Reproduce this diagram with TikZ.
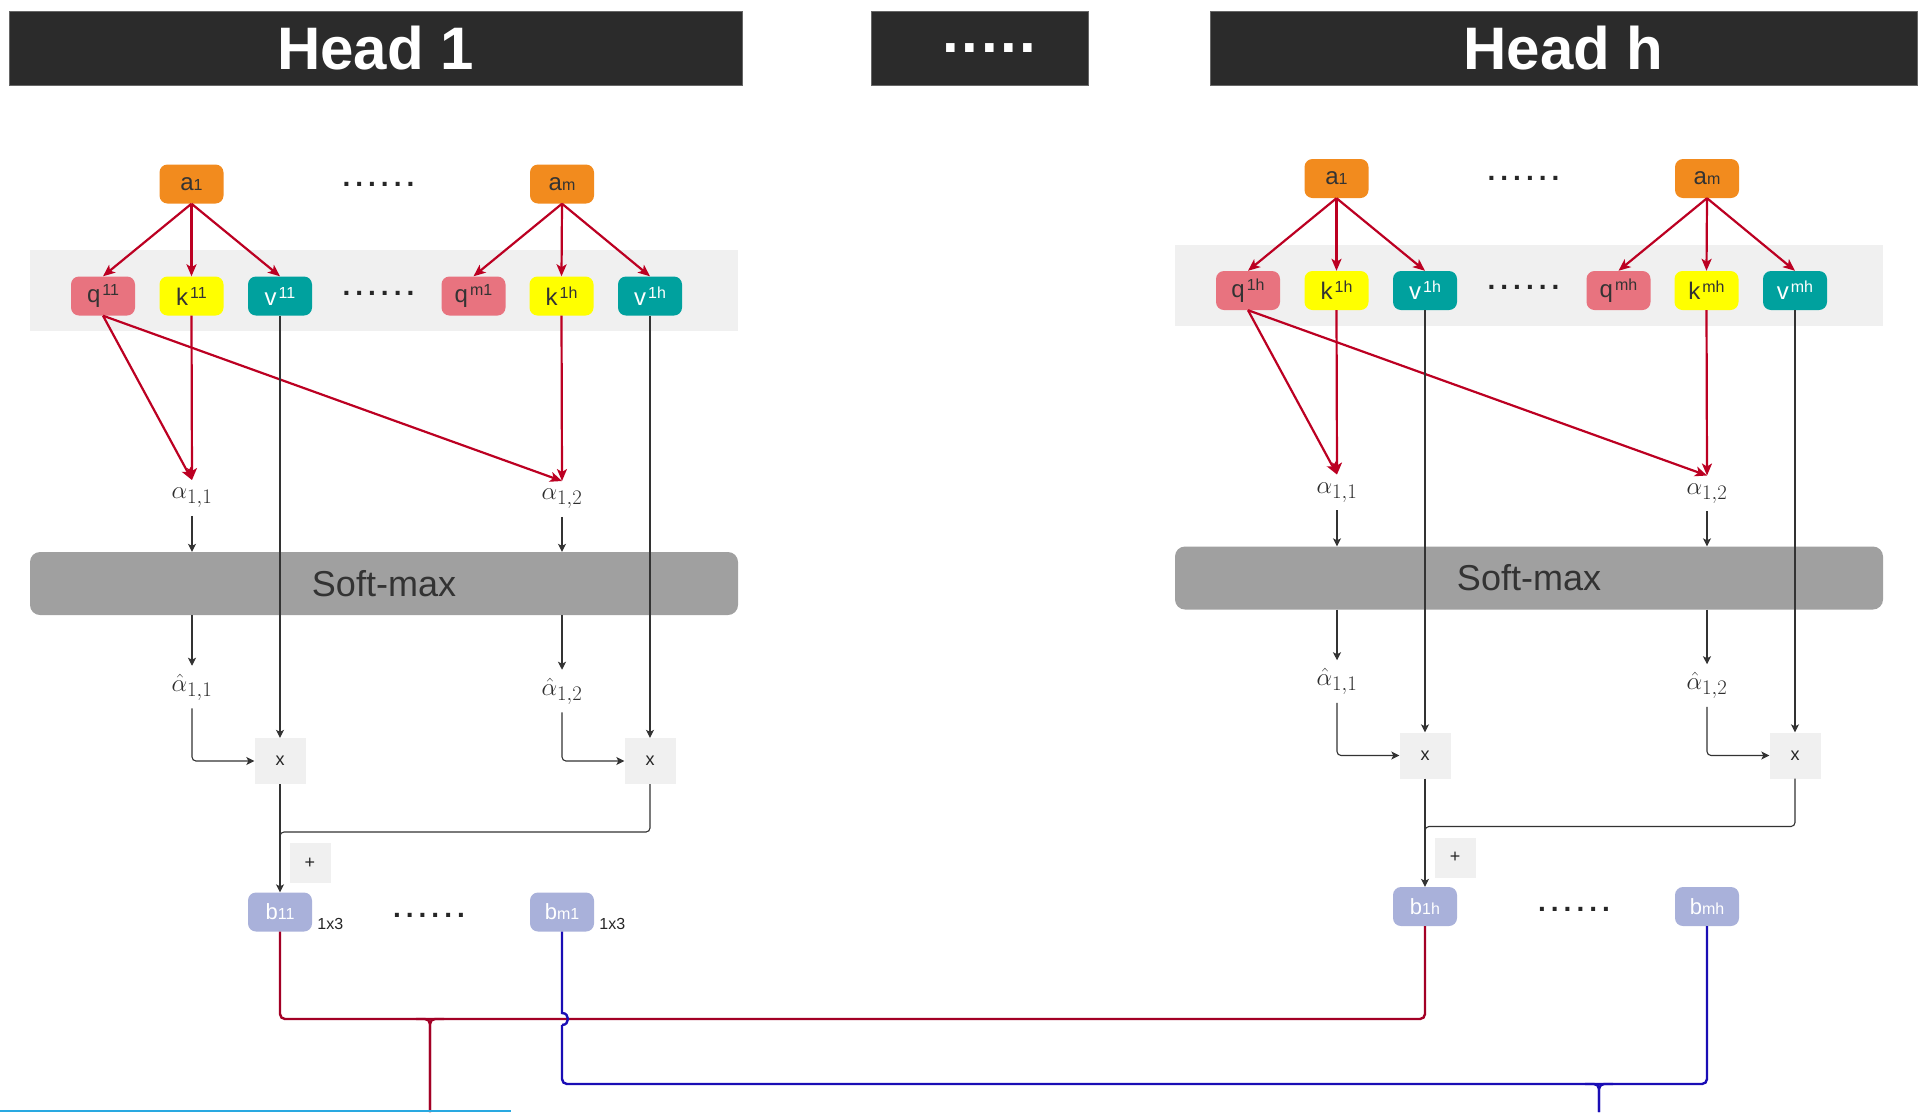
\documentclass[tikz,border=0pt]{standalone}
\usepackage{fontspec}
\setmainfont{Liberation Sans}
\usetikzlibrary{arrows.meta}

\definecolor{barblack}{HTML}{2B2B2B}
\definecolor{aorange}{HTML}{F28B1E}
\definecolor{qpink}{HTML}{E8737F}
\definecolor{kyellow}{HTML}{FFFF00}
\definecolor{vteal}{HTML}{00A19E}
\definecolor{blav}{HTML}{A9B1DA}
\definecolor{bandgrey}{HTML}{F0F0F0}
\definecolor{softgrey}{HTML}{A0A0A0}
\definecolor{inkgrey}{HTML}{333333}
\definecolor{arrowred}{HTML}{BC0022}
\definecolor{busred}{HTML}{A30025}
\definecolor{busblue}{HTML}{1A0DB5}
\definecolor{edgecyan}{HTML}{29A9E1}

\newcommand\lowidx[1]{{\fontsize{16}{16}\selectfont #1}}
\newcommand\upidx[1]{\kern2pt\raisebox{7pt}{\fontsize{16}{16}\selectfont #1}}
\newcommand\sixdots{.\kern5pt.\kern5pt.\kern5pt.\kern5pt.\kern5pt.}
\newcommand\fivedots{.\kern2.5pt.\kern2.5pt.\kern2.5pt.\kern2.5pt.}

\tikzset{
  titlebar/.style={fill=barblack, draw=black!60, minimum height=74pt, inner sep=0pt,
    text=white, font=\bfseries\fontsize{60}{60}\selectfont},
  box/.style={rounded corners=8pt, minimum width=64pt, minimum height=39pt, inner sep=0pt,
    font=\fontsize{24}{24}\selectfont},
  anode/.style={box, fill=aorange, text=inkgrey},
  qnode/.style={box, fill=qpink, text=inkgrey},
  knode/.style={box, fill=kyellow, text=inkgrey},
  vnode/.style={box, fill=vteal, text=white},
  bnode/.style={box, fill=blav, text=white, font=\fontsize{22}{22}\selectfont},
  dotrow/.style={inner sep=0pt, text=black!85, font=\bfseries\fontsize{28}{28}\selectfont},
  weight/.style={text=black!82, inner xsep=0pt, inner ysep=8pt, font=\fontsize{28}{28}\selectfont},
  softbox/.style={fill=softgrey, rounded corners=10pt, minimum width=708pt, minimum height=63pt,
    text=inkgrey, font=\fontsize{36}{36}\selectfont},
  opbox/.style={fill=bandgrey, inner sep=0pt, text=black!85, font=\fontsize{18}{18}\selectfont},
  dimlabel/.style={inner sep=0pt, text=black!85, font=\fontsize{16}{16}\selectfont},
  redarrow/.style={draw=arrowred, line width=2.2pt, -{Stealth[length=12pt,width=10pt,inset=3pt]}},
  thinarrow/.style={draw=inkgrey, line width=1.1pt, -{Stealth[length=8pt,width=8pt,inset=2pt]}},
  thinline/.style={draw=inkgrey, line width=1.1pt},
  redbus/.style={draw=busred, line width=2.4pt},
  bluebus/.style={draw=busblue, line width=2.4pt}
}

\begin{document}
\begin{tikzpicture}[x=1pt,y=-1pt]
\useasboundingbox (0,0) rectangle (1928,1112);

% title bars
\node[titlebar, minimum width=733pt] (title1) at (375.5,48) {Head 1};
\node[titlebar, minimum width=217pt] (titlemid) at (979.5,48) {\hspace*{20pt}\fivedots};
\node[titlebar, minimum width=707pt] (titleh) at (1563.5,48) {Head h};

% one block per head
\foreach \h/\sx/\sy/\qa/\ka/\va/\qb/\kb/\vb/\bA/\bM in
  {1/0/0/11/11/11/m1/1h/1h/11/m1, h/1145/-5.5/1h/1h/1h/mh/mh/mh/1h/mh}
{
\begin{scope}[shift={(\sx,\sy)}]
  \fill[bandgrey] (30,250) rectangle (738,331);

  \node[anode] (a\h-1) at (191.5,184) {a\lowidx{1}};
  \node[dotrow] (dotsa\h) at (378.5,184) {\sixdots};
  \node[anode] (a\h-m) at (562,184) {a\lowidx{m}};

  \node[qnode] (q\h-1) at (103,296) {q\upidx{\qa}};
  \node[knode] (k\h-1) at (191.5,296) {k\upidx{\ka}};
  \node[vnode] (v\h-1) at (280,296) {v\upidx{\va}};
  \node[dotrow] (dotsq\h) at (378.5,293) {\sixdots};
  \node[qnode] (q\h-m) at (473.5,296) {q\upidx{\qb}};
  \node[knode] (k\h-m) at (561.5,296) {k\upidx{\kb}};
  \node[vnode] (v\h-m) at (650,296) {v\upidx{\vb}};

  \node[weight] (w\h-1) at (192,498) {$\alpha_{1,1}$};
  \node[weight] (w\h-2) at (562,499) {$\alpha_{1,2}$};
  \node[softbox] (soft\h) at (384,583.5) {Soft-max};
  \node[weight] (wh\h-1) at (192,687) {$\hat{\alpha}_{1,1}$};
  \node[weight] (wh\h-2) at (562,691) {$\hat{\alpha}_{1,2}$};

  \node[opbox, minimum width=51pt, minimum height=46pt] (mul\h-1) at (280,761) {x};
  \node[opbox, minimum width=51pt, minimum height=46pt] (mul\h-2) at (650,761) {x};
  \node[opbox, minimum width=41pt, minimum height=40pt] (plus\h) at (310,863) {+};
  \coordinate (join\h) at (280,832);

  \node[bnode] (b\h-1) at (280,912) {b\lowidx{\bA}};
  \node[dotrow] (dotsb\h) at (429,915) {\sixdots};
  \node[bnode] (b\h-m) at (562,912) {b\lowidx{\bM}};

  \foreach \t in {q,k,v} {
    \draw[redarrow] (a\h-1.south) -- (\t\h-1.north);
    \draw[redarrow] (a\h-m.south) -- (\t\h-m.north);
  }
  \draw[redarrow] (q\h-1.south) -- (w\h-1.north);
  \draw[redarrow] (k\h-1.south) -- (w\h-1.north);
  \draw[redarrow] (q\h-1.south) -- (w\h-2.north);
  \draw[redarrow] (k\h-m.south) -- (w\h-2.north);

  \draw[thinarrow] (w\h-1.south) -- (w\h-1.south |- soft\h.north);
  \draw[thinarrow] (w\h-2.south) -- (w\h-2.south |- soft\h.north);
  \draw[thinarrow] (wh\h-1.north |- soft\h.south) -- (wh\h-1.north);
  \draw[thinarrow] (wh\h-2.north |- soft\h.south) -- (wh\h-2.north);
  \draw[thinarrow, rounded corners=4pt] (wh\h-1.south) |- (mul\h-1.west);
  \draw[thinarrow, rounded corners=4pt] (wh\h-2.south) |- (mul\h-2.west);
  \draw[thinarrow] (v\h-1.south) -- (mul\h-1.north);
  \draw[thinarrow] (v\h-m.south) -- (mul\h-2.north);
  \draw[thinarrow] (mul\h-1.south) -- (b\h-1.north);
  \draw[thinline, rounded corners=4pt] (mul\h-2.south) |- (join\h) -- ++(0,10);
\end{scope}
}

\node[dimlabel, anchor=base west] (dim1) at ([xshift=5pt,yshift=2.5pt]b1-1.south east) {1x3};
\node[dimlabel, anchor=base west] (dim2) at ([xshift=5pt,yshift=2.5pt]b1-m.south east) {1x3};

% joining the heads
\coordinate (redrail) at (0,1019);
\coordinate (redfork) at (430,1019);
\coordinate (redout) at (430,1112);
\coordinate (bluerail) at (0,1084);
\coordinate (bluefork) at (1599,1084);
\coordinate (blueout) at (1599,1112);
\coordinate (hopin) at (562,1013);
\coordinate (hopout) at (562,1025);

\draw[redbus, rounded corners=5pt] (b1-1.south) |- (redrail -| bh-1) -- (bh-1.south);
\draw[redbus, rounded corners=5pt] ([xshift=-14pt]redfork) -| (redout);
\draw[redbus, rounded corners=5pt] ([xshift=14pt]redfork) -| (redout);
\draw[bluebus] (b1-m.south) -- (hopin) .. controls +(8,0) and +(8,0) .. (hopout);
\draw[bluebus, rounded corners=5pt] (hopout) |- (bluerail -| bh-m) -- (bh-m.south);
\draw[bluebus, rounded corners=5pt] ([xshift=-14pt]bluefork) -| (blueout);
\draw[bluebus, rounded corners=5pt] ([xshift=14pt]bluefork) -| (blueout);

\draw[edgecyan, line width=2pt] (0,1111) -- (511,1111);
\end{tikzpicture}
\end{document}
